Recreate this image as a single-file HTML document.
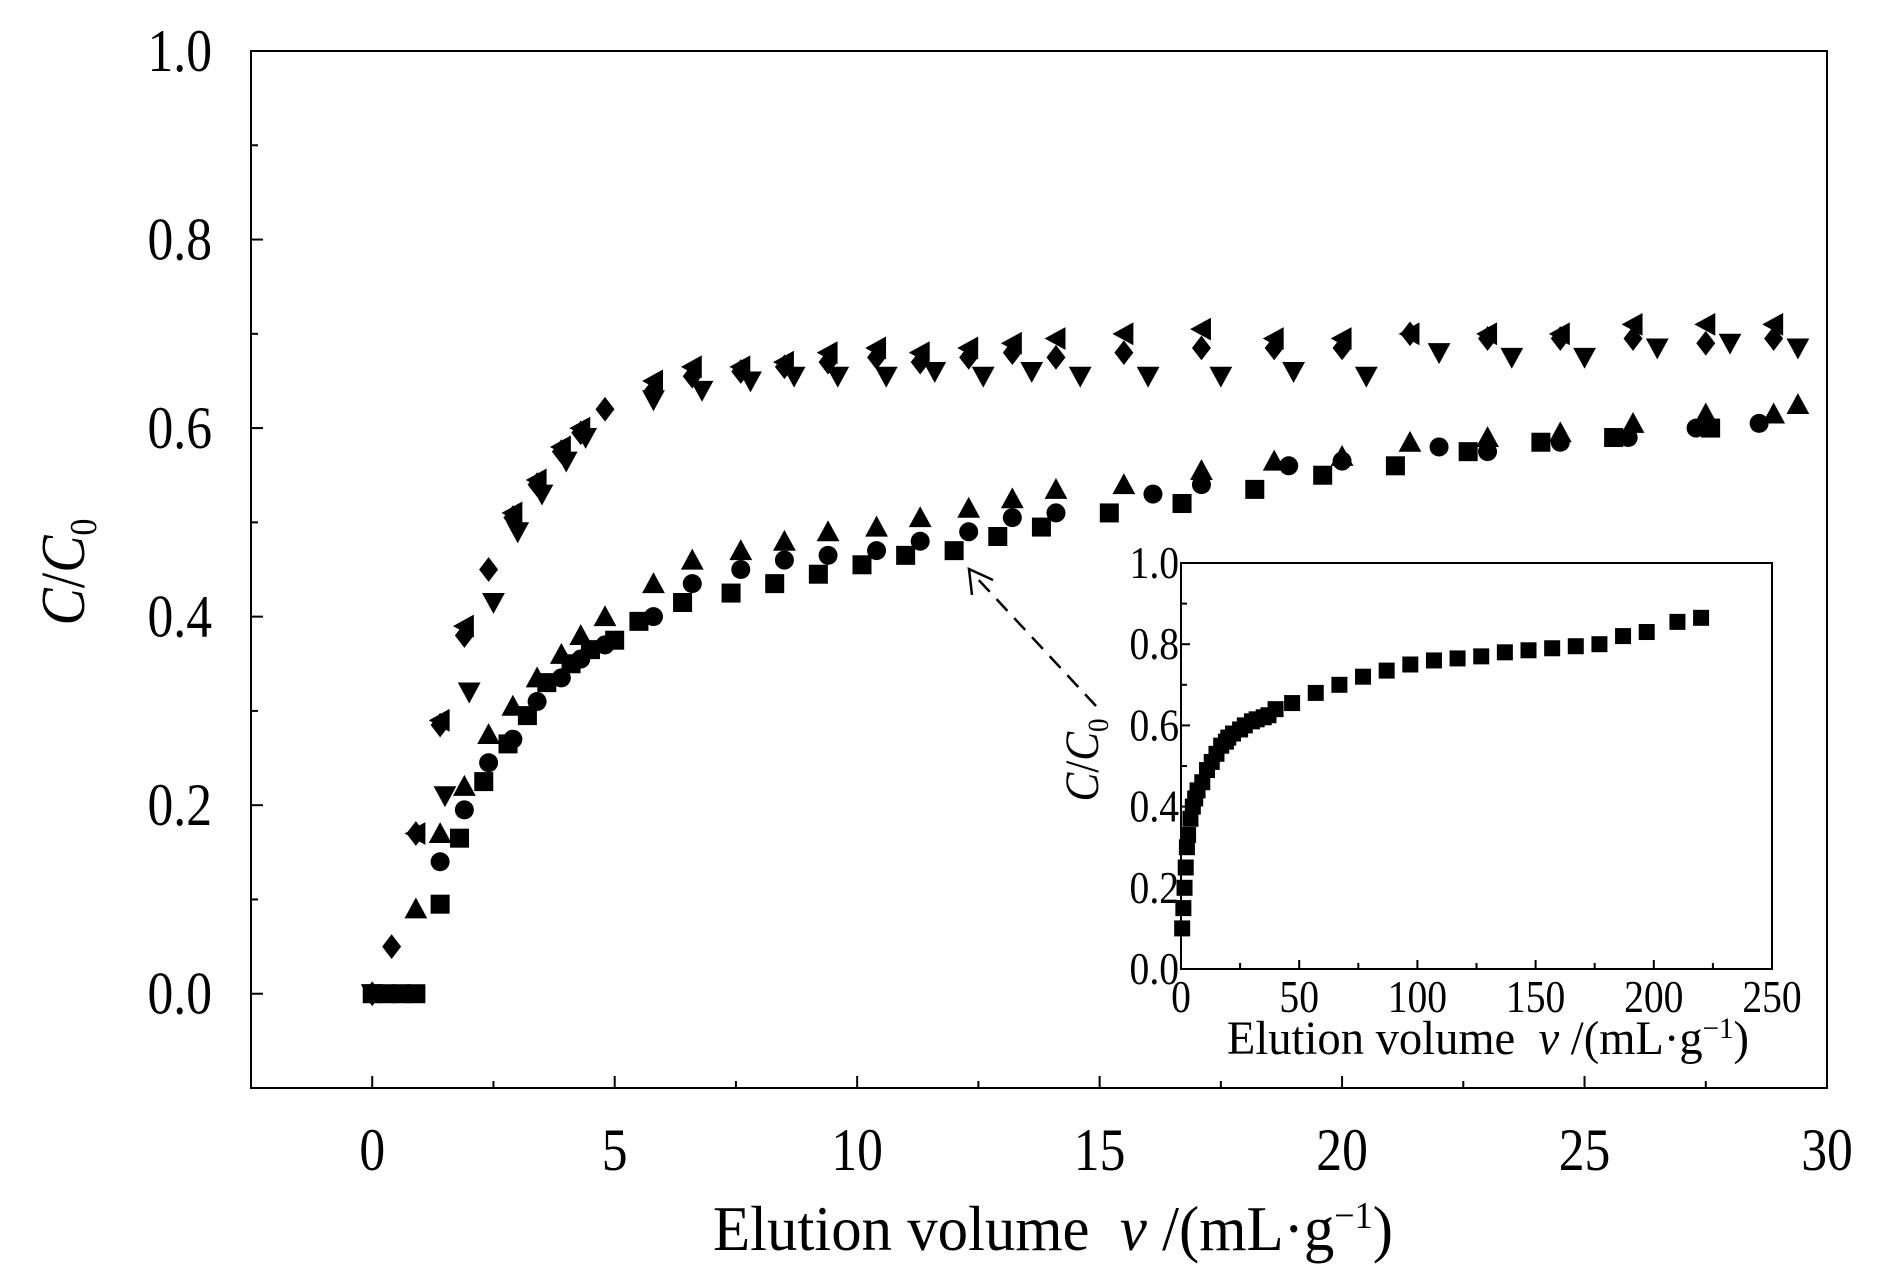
<!DOCTYPE html>
<html><head><meta charset="utf-8"><style>
html,body{margin:0;padding:0;background:#fff;}
svg{display:block;font-family:"Liberation Serif","DejaVu Serif",serif;}
</style></head><body>
<svg id="chart" width="1890" height="1276" viewBox="0 0 1890 1276" xmlns="http://www.w3.org/2000/svg">
<g id="main"></g>
<g id="inset"></g>
</svg>
<script>
const xTicks=[0,5,10,15,20,25,30];
const yTicks=[0.0,0.2,0.4,0.6,0.8,1.0];
const diamondX=[0,0.4,0.9,1.4,1.9,2.4,2.9,3.4,3.9,4.3,4.8,5.8,6.6,7.6,8.5,9.4,10.4,11.3,12.3,13.2,14.1,15.5,17.1,18.6,20,21.4,23,24.5,26,27.5,28.9];
const diamondY=[0,0.05,0.17,0.285,0.38,0.45,0.505,0.54,0.575,0.595,0.62,0.64,0.655,0.66,0.665,0.67,0.675,0.67,0.675,0.68,0.675,0.68,0.685,0.685,0.685,0.7,0.695,0.695,0.695,0.69,0.695];
const leftTriX=[0.9,1.4,1.9,2.9,3.4,3.9,4.3,5.8,6.6,7.6,8.5,9.4,10.4,11.3,12.3,13.2,14.1,15.5,17.1,18.6,20,21.4,23,24.5,26,27.5,28.9];
const leftTriY=[0.17,0.29,0.39,0.51,0.545,0.58,0.6,0.65,0.665,0.665,0.67,0.68,0.685,0.68,0.685,0.69,0.695,0.7,0.705,0.695,0.695,0.7,0.7,0.7,0.71,0.71,0.71];
const downTriX=[0,1.5,2,2.5,3,3.5,4,4.4,5.8,6.8,7.8,8.7,9.6,10.6,11.6,12.6,13.6,14.6,16,17.5,19,20.5,22,23.5,25,26.5,28,29.4];
const downTriY=[0,0.21,0.32,0.415,0.49,0.53,0.565,0.59,0.63,0.64,0.65,0.655,0.655,0.655,0.66,0.655,0.66,0.655,0.655,0.655,0.66,0.655,0.68,0.675,0.675,0.685,0.69,0.685];
const upTriX=[0.9,1.4,1.9,2.4,2.9,3.4,3.9,4.3,4.8,5.8,6.6,7.6,8.5,9.4,10.4,11.3,12.3,13.2,14.1,15.5,17.1,18.6,20,21.4,23,24.5,26,27.5,28.9,29.4];
const upTriY=[0.09,0.17,0.22,0.275,0.305,0.335,0.36,0.38,0.4,0.435,0.46,0.47,0.48,0.49,0.495,0.505,0.515,0.525,0.535,0.54,0.555,0.565,0.57,0.585,0.59,0.595,0.605,0.615,0.615,0.625];
const circleX=[1.4,1.9,2.4,2.9,3.4,3.9,4.3,4.8,5.8,6.6,7.6,8.5,9.4,10.4,11.3,12.3,13.2,14.1,16.1,17.1,18.9,20,22,23,24.5,25.9,27.3,28.6];
const circleY=[0.14,0.195,0.245,0.27,0.31,0.335,0.355,0.37,0.4,0.435,0.45,0.46,0.465,0.47,0.48,0.49,0.505,0.51,0.53,0.54,0.56,0.565,0.58,0.575,0.585,0.59,0.6,0.605];
const squareX=[0,0.3,0.6,0.9,1.4,1.8,2.3,2.8,3.2,3.6,4.1,4.5,5,5.5,6.4,7.4,8.3,9.2,10.1,11,12,12.9,13.8,15.2,16.7,18.2,19.6,21.1,22.6,24.1,25.6,27.6];
const squareY=[0,0,0,0,0.095,0.165,0.225,0.265,0.295,0.33,0.35,0.365,0.375,0.395,0.415,0.425,0.435,0.445,0.455,0.465,0.47,0.485,0.495,0.51,0.52,0.535,0.55,0.56,0.575,0.585,0.59,0.6];
const insetXTicks=[0,50,100,150,200,250];
const insetYTicks=[0.0,0.2,0.4,0.6,0.8,1.0];
const insetX=[0.5,1,1.5,2,2.5,3,4,5,6,7,9,11,13,15,17,19,20,22,25,27,30,32,35,37,40,47,57,67,77,87,97,107,117,127,137,147,157,167,177,187,197,210,220];
const insetY=[0.1,0.15,0.2,0.25,0.3,0.33,0.37,0.4,0.42,0.44,0.46,0.49,0.51,0.53,0.55,0.56,0.57,0.58,0.59,0.6,0.61,0.615,0.62,0.625,0.64,0.655,0.68,0.7,0.72,0.735,0.75,0.76,0.765,0.77,0.78,0.785,0.79,0.795,0.8,0.82,0.83,0.855,0.865];

const NS="http://www.w3.org/2000/svg";
const CX=0.86;
function mk(tag,attrs,parent){const e=document.createElementNS(NS,tag);for(const k in attrs)e.setAttribute(k,attrs[k]);parent.appendChild(e);return e;}
function ctext(x,y,size,anchor,parent,cx){cx=cx||CX;return mk('text',{x:x/cx,y:y,'font-size':size,'text-anchor':anchor,transform:`scale(${cx},1)`},parent);}
const main=document.getElementById('main');
const L=251,R=1827,T=51,B=1088;
const sx=v=>L+(v+2.5)/32.5*(R-L);
const sy=v=>B-(v+0.1)/1.1*(B-T);
let f=mk('rect',{x:L,y:T,width:R-L,height:B-T,fill:'none',stroke:'#000','stroke-width':2},main);


xTicks.forEach((t,i)=>{
  const x=sx(t);
  let tk=mk('line',{x1:x,y1:B,x2:x,y2:B-12,stroke:'#000','stroke-width':2},main);
  
  if(i<xTicks.length-1){let m=mk('line',{x1:sx(t+2.5),y1:B,x2:sx(t+2.5),y2:B-7,stroke:'#000','stroke-width':2},main);
  }
  let tx=ctext(x,1170,60,'middle',main);tx.textContent=t;
  
});
yTicks.forEach((t,i)=>{
  const y=sy(t);
  let tk=mk('line',{x1:L,y1:y,x2:L+12,y2:y,stroke:'#000','stroke-width':2},main);
  
  if(i<yTicks.length-1){let m=mk('line',{x1:L,y1:sy(t+0.1),x2:L+7,y2:sy(t+0.1),stroke:'#000','stroke-width':2},main);
  }
  let tx=ctext(212,y+20,60,'end',main);tx.textContent=t.toFixed(1);
  
});
let xt=ctext(1053,1250,64,'middle',main,0.95);
xt.innerHTML='Elution volume&#160;&#160;<tspan font-style="italic">v</tspan> /(mL·g<tspan dy="-22" font-size="38">−1</tspan><tspan dy="22">)</tspan>';

let yt=mk('text',{x:0,y:0,'font-size':62,'text-anchor':'middle',transform:'translate(84,572) rotate(-90) scale(0.9,1)'},main);
yt.innerHTML='<tspan font-style="italic">C</tspan>/<tspan font-style="italic">C</tspan><tspan dy="12" font-size="38">0</tspan>';


function marker(shape,x,y,parent,s){
  let e;
  if(shape==='square')e=mk('rect',{x:x-s,y:y-s,width:2*s,height:2*s,fill:'#000'},parent);
  else if(shape==='circle')e=mk('circle',{cx:x,cy:y,r:s,fill:'#000'},parent);
  else if(shape==='up')e=mk('polygon',{points:`${x},${y-s*1.2} ${x-s*1.2},${y+s} ${x+s*1.2},${y+s}`,fill:'#000'},parent);
  else if(shape==='down')e=mk('polygon',{points:`${x},${y+s*1.2} ${x-s*1.2},${y-s} ${x+s*1.2},${y-s}`,fill:'#000'},parent);
  else if(shape==='left')e=mk('polygon',{points:`${x-s*1.2},${y} ${x+s},${y-s*1.2} ${x+s},${y+s*1.2}`,fill:'#000'},parent);
  else e=mk('polygon',{points:`${x},${y-s*1.3} ${x+s},${y} ${x},${y+s*1.3} ${x-s},${y}`,fill:'#000'},parent);
  return e;
}
const series=[['square',squareX,squareY],['circle',circleX,circleY],['up',upTriX,upTriY],['down',downTriX,downTriY],['left',leftTriX,leftTriY],['diamond',diamondX,diamondY]];
series.forEach(([shape,xs,ys])=>{
  const g=mk('g',{},main);
  
  
  xs.forEach((v,i)=>{const m=marker(shape,sx(v),sy(ys[i]),g,9.5);
    
    });
});
let ar=mk('line',{x1:1096,y1:706,x2:975,y2:576,stroke:'#000','stroke-width':2.5,'stroke-dasharray':'16,10'},main);

let ah=mk('polyline',{points:'972,595 969,569 993,580',fill:'none',stroke:'#000','stroke-width':2.5},main);


const ins=document.getElementById('inset');
const iL=1181,iR=1772,iT=563,iB=969;
const ix=v=>iL+v/250*(iR-iL);
const iy=v=>iB-v*(iB-iT);
let bg=mk('rect',{x:iL,y:iT,width:iR-iL,height:iB-iT,fill:'#fff',stroke:'#000','stroke-width':2},ins);

insetXTicks.forEach((t,i)=>{
  let tk=mk('line',{x1:ix(t),y1:iB,x2:ix(t),y2:iB-9,stroke:'#000','stroke-width':2},ins);
  
  if(i<insetXTicks.length-1){let m=mk('line',{x1:ix(t+25),y1:iB,x2:ix(t+25),y2:iB-6,stroke:'#000','stroke-width':2},ins);
  }
  let tx=ctext(ix(t),1012,46,'middle',ins);tx.textContent=t;
  
});
insetYTicks.forEach((t,i)=>{
  let tk=mk('line',{x1:iL,y1:iy(t),x2:iL+9,y2:iy(t),stroke:'#000','stroke-width':2},ins);
  
  if(i<insetYTicks.length-1){let m=mk('line',{x1:iL,y1:iy(t+0.1),x2:iL+6,y2:iy(t+0.1),stroke:'#000','stroke-width':2},ins);
  }
  let tx=ctext(iL-2,iy(t)+15,46,'end',ins);tx.textContent=t.toFixed(1);
  
});
let ixt=ctext(1488,1054,48,'middle',ins,0.97);
ixt.innerHTML='Elution volume&#160;&#160;<tspan font-style="italic">v</tspan> /(mL·g<tspan dy="-16" font-size="30">−1</tspan><tspan dy="16">)</tspan>';

let iyt=mk('text',{x:0,y:0,'font-size':48,'text-anchor':'middle',transform:'translate(1098,760) rotate(-90) scale(0.9,1)'},ins);
iyt.innerHTML='<tspan font-style="italic">C</tspan>/<tspan font-style="italic">C</tspan><tspan dy="10" font-size="30">0</tspan>';

const ig=mk('g',{},ins);


insetX.forEach((v,i)=>{const m=marker('square',ix(v),iy(insetY[i]),ig,8);
  
  });
</script>
</body></html>
